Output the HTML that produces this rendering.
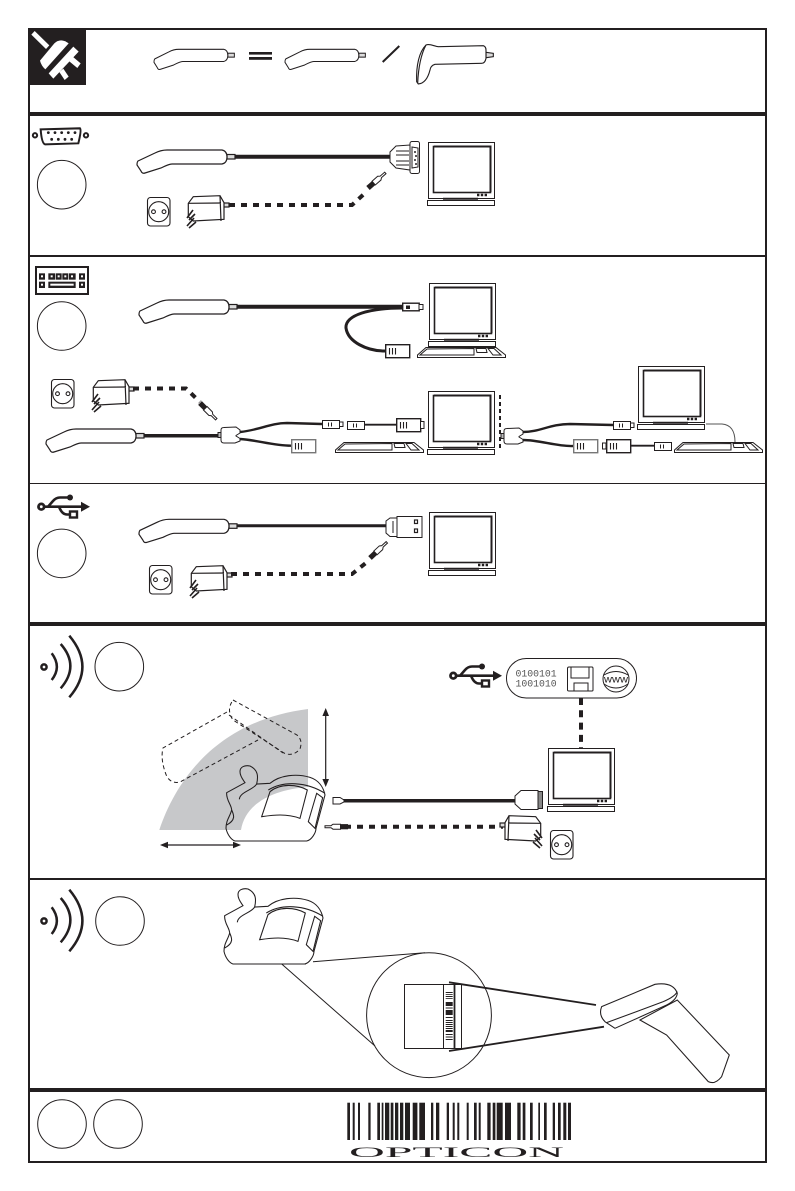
<!DOCTYPE html>
<html><head><meta charset="utf-8"><style>html,body{margin:0;padding:0;background:#fff}svg{display:block}</style></head>
<body>
<svg xmlns="http://www.w3.org/2000/svg" width="795" height="1191" viewBox="0 0 795 1191">
<defs>
<g id="pen" fill="#fff" stroke="#231f20" stroke-width="1.2">
<rect x="90" y="4.5" width="8" height="4.5" fill="#ddd"/>
<path d="M1 11L18 3Q24 0 30 0L85 0Q90 1 90 7Q90 13 85 14L35 14Q32 14 24 18L8 23Q5 24 4 21L0 15Q0 12 1 11Z"/>
</g>
<g id="adapter" fill="#fff" stroke="#231f20" stroke-width="1.2">
<rect x="36" y="8" width="6" height="4" fill="#ddd"/>
<path d="M1.3 8.3L6.3 1.7L33 .7L37 7.7L37 24.3L6.3 26L1.3 21.7Z"/>
<path d="M1.3 8.3L34 8M33 .7L34 26" fill="none"/>
<path d="M0 23L6 15M2 25L8 19M0 31L7 23M2 33L9 27" fill="none" stroke-width="1.6"/>
</g>
<g id="socket" fill="#fff" stroke="#231f20" stroke-width="1.1">
<rect x=".5" y=".5" width="22.5" height="28.5" rx="3"/>
<circle cx="11.7" cy="14.7" r="10"/>
<circle cx="6.5" cy="14.7" r="1.9"/><circle cx="17" cy="14.7" r="1.9"/>
</g>
<g id="monitor" fill="#fff" stroke="#231f20">
<rect x=".5" y=".5" width="66" height="56" stroke-width="1"/>
<rect x="5.5" y="4.5" width="57" height="46" stroke-width="1.6"/>
<path d="M6 4.5H62.5V50" fill="none" stroke-width="2"/>
<path d="M15 56.7H50" stroke-width="2"/>
<rect x="-.5" y="58.5" width="67" height="5" stroke-width="1"/>
<path d="M49 53H60" stroke-width="2.4" stroke-dasharray="2.4 1.4" fill="none"/>
</g>
<g id="kb" fill="#fff" stroke="#231f20" stroke-width="1">
<path d="M.5 10.5L.5 8L9 .5L79 .5L88.5 8L88.5 10.5Z"/>
<path d="M3 8L10 2L57 1.5L57 8ZM59 1.5H69L70 5.5H60ZM71 1.5L77 1.5L84 8L76 8Z"/>
</g>
<g id="usb" fill="none" stroke="#231f20" stroke-width="2.6">
<circle cx="4.3" cy="12.7" r="2.8" stroke-width="2.8"/>
<path d="M7 12.7H46"/>
<path d="M44 7.7L53 12.7L44 17.7Z" fill="#231f20" stroke="none"/>
<path d="M11 12.7L16 7Q19 3.5 23 3.5H32"/>
<circle cx="33" cy="3.5" r="3" fill="#231f20" stroke="none"/>
<path d="M22 12.7Q25 20.5 30 20.5H33"/>
<rect x="33" y="17.5" width="7" height="6" fill="#fff" stroke-width="2.4"/>
</g>
<g id="wireless" fill="none" stroke="#231f20" stroke-width="2.5">
<circle cx="44" cy="667" r="2.6"/>
<path d="M51.7 653.3Q62 667 51.7 680"/>
<path d="M60.7 644Q80 666 60.7 688.3"/>
<path d="M69.3 635.7Q95.5 667 69.3 697.3"/>
</g>
<g id="cradle" fill="none" stroke="#231f20" stroke-width="3.2">
<path d="M165 68L110 98C108 120 125 135 125 150C120 170 108 180 108 205C112 225 125 240 135 243L350 243C365 240 378 218 378 205L405 105C400 80 385 60 360 52C320 40 270 45 240 70L200 72C205 50 205 30 180 18C165 15 150 20 150 35C150 50 160 60 165 68Z"/>
<path d="M200 72C190 90 150 95 148 118M125 150C132 165 138 180 110 195M235 90C280 62 350 65 405 100"/>
<path d="M240 95C270 70 320 72 352 90L330 175C290 160 250 165 215 170Z"/>
<path d="M380 100L398 113L375 205L355 185Z"/>
</g>
<g id="smallc" fill="#fff" stroke="#231f20" stroke-width="1">
<rect x=".5" y=".5" width="17" height="8"/>
<path d="M6.5 2.5V6.5M9.5 2.5V6.5"/>
</g>
<g id="bigc" fill="#fff">
<rect x=".7" y=".7" width="24" height="13" stroke-width="1.4"/>
<path d="M4.5 4V10.5M7.5 4V10.5M10.5 4V10.5" stroke="#231f20" stroke-width="1.1"/>
</g>
<g id="jack">
<rect x="0" y="-2.6" width="7.5" height="5.2" fill="#231f20"/>
<path d="M7.5 -2.5H15L17 -1H23V1H17L15 2.5H7.5Z" fill="#fff" stroke="#231f20" stroke-width="1"/>
</g>
<g id="split" fill="#fff" stroke="#231f20" stroke-width="1">
<rect x="-2" y="5.5" width="3" height="5" fill="#bbb"/>
<path d="M1 3Q1 .5 4 .5L16 0L20 3V6L16 8.5V9L20 11.5V14L15 16H4Q1 16 1 13Z"/>
</g>
</defs>

<rect width="795" height="1191" fill="#fff"/>

<!-- Frame -->
<rect x="29" y="29" width="737" height="1133" fill="none" stroke="#231f20" stroke-width="2"/>
<g fill="#231f20">
<rect x="28" y="112" width="739" height="4"/>
<rect x="28" y="255" width="739" height="2"/>
<rect x="28" y="483" width="739" height="1"/>
<rect x="28" y="622" width="739" height="4"/>
<rect x="28" y="878" width="739" height="2"/>
<rect x="28" y="1088" width="739" height="4"/>
</g>

<!-- Row 1 -->
<rect x="30" y="30" width="56" height="55" fill="#231f20"/>
<g transform="translate(20 20) scale(.3333)" fill="#fff">
<path d="M34 44L44 33L88 76L78 87Z"/>
<path d="M60 122L103 70Q122 52 146 70L76 148Q64 138 60 122Z"/>
<path d="M86 160L160 80L176 95L100 176Z"/>
<path d="M118 156L130 146L146 170L134 180Z"/>
<path d="M148 124L158 110L182 130L172 144Z"/>
</g>
<use href="#pen" transform="translate(154 49.3) scale(.82 .87)"/>
<use href="#pen" transform="translate(285 49.3) scale(.82 .87)"/>
<rect x="249" y="52" width="23" height="2.6" fill="#231f20"/>
<rect x="249" y="57" width="23" height="2.8" fill="#231f20"/>
<path d="M382.7 62L399.3 46" stroke="#231f20" stroke-width="2" fill="none"/>
<g transform="translate(400 35) scale(.3333)" fill="#fff" stroke="#231f20" stroke-width="3.4">
<path d="M258 52L280 55V65L258 68Z" fill="#ddd"/>
<path d="M50 140C48 90 58 50 78 30C90 25 105 35 115 35L250 32Q258 35 258 45L258 70Q255 85 245 85L105 88Q92 92 90 105C85 125 75 145 55 147Z"/>
<path d="M78 30C62 60 55 100 53 145" fill="none"/>
</g>

<!-- Row 2 : serial -->
<g transform="translate(20 20) scale(.3333)" fill="none" stroke="#231f20" stroke-width="6">
<circle cx="45" cy="346" r="6.5"/><circle cx="198" cy="346" r="6.5"/>
<path d="M62 328L180 325Q185 330 175 370L75 373Q65 370 62 328Z"/>
<g fill="#231f20" stroke="none"><circle cx="85" cy="338" r="4.2"/><circle cx="105" cy="338" r="4.2"/><circle cx="125" cy="338" r="4.2"/><circle cx="145" cy="338" r="4.2"/><circle cx="165" cy="338" r="4.2"/><circle cx="95" cy="358" r="4.2"/><circle cx="115" cy="358" r="4.2"/><circle cx="135" cy="358" r="4.2"/><circle cx="155" cy="358" r="4.2"/></g>
</g>
<g fill="#fff" stroke="#231f20" stroke-width="1">
<circle cx="61.7" cy="184.7" r="24.3"/>
<circle cx="61.7" cy="326" r="24.3"/>
<circle cx="61.7" cy="553.4" r="24.3"/>
<circle cx="119.3" cy="666.7" r="24.3"/>
<circle cx="120" cy="921" r="24.3"/>
<circle cx="62" cy="1124" r="24.3"/>
<circle cx="118" cy="1124" r="24.3"/>
</g>
<path d="M232 156.7H391" stroke="#231f20" stroke-width="4"/>
<use href="#pen" transform="translate(137 150)"/>
<g fill="#fff" stroke="#231f20" stroke-width="1">
<path d="M390 152L396 146L410 145V170L396 168L390 162Z"/>
<path d="M396 151H409M396 155H409M396 161H409M396 165H409" fill="none"/>
<rect x="410" y="141.5" width="9.5" height="32" rx="2"/>
<path d="M412 147L418 148L418 167L412 168Z" fill="none"/>
<path d="M415 151V153M416 155V157M415 159V161M416 163V165" stroke-width="1.5"/>
</g>
<use href="#monitor" transform="translate(428 142)"/>
<use href="#socket" transform="translate(147 197)"/>
<use href="#adapter" transform="translate(187 195)"/>
<path d="M229 205H352L364 194" fill="none" stroke="#231f20" stroke-width="4" stroke-dasharray="6 6"/>
<use href="#jack" transform="translate(368 188) rotate(-41)"/>

<!-- Row 3 : keyboard wedge -->
<g transform="translate(20 260) scale(.3333)">
<rect x="48" y="21" width="156" height="81" fill="#fff" stroke="#231f20" stroke-width="6"/>
<g fill="#231f20">
<rect x="57" y="40" width="18" height="19"/><rect x="85" y="40" width="20" height="19"/><rect x="107" y="40" width="18" height="19"/><rect x="127" y="40" width="18" height="19"/><rect x="147" y="40" width="20" height="19"/><rect x="177" y="40" width="18" height="19"/>
<rect x="57" y="65" width="18" height="19"/><rect x="85" y="65" width="82" height="19"/><rect x="177" y="65" width="18" height="19"/>
</g>
<g fill="#fff"><rect x="63" y="46" width="6" height="6"/><rect x="92" y="46" width="6" height="6"/><rect x="113" y="46" width="6" height="6"/><rect x="133" y="46" width="6" height="6"/><rect x="153" y="46" width="6" height="6"/><rect x="183" y="46" width="6" height="6"/><rect x="63" y="71" width="6" height="6"/><rect x="91" y="71" width="70" height="6"/><rect x="183" y="71" width="6" height="6"/></g>
</g>
<path d="M232 306.7H403" stroke="#231f20" stroke-width="4"/>
<use href="#pen" transform="translate(139 300)"/>
<path d="M402 308C370 308 345 315 346 328C348 342 367 351 385 351" fill="none" stroke="#231f20" stroke-width="3"/>
<rect x="402.7" y="303.2" width="16.5" height="7.6" fill="#fff" stroke="#231f20" stroke-width="1.4"/>
<rect x="406" y="305.5" width="4" height="3.5" fill="#231f20"/>
<rect x="419" y="304.5" width="4" height="5" fill="#fff" stroke="#231f20" stroke-width="1"/>
<use href="#bigc" stroke="#231f20" transform="translate(385 344)"/>
<use href="#monitor" transform="translate(429 283)"/>
<use href="#kb" transform="translate(417 347)"/>

<use href="#socket" transform="translate(51 379)"/>
<use href="#adapter" transform="translate(92 379)"/>
<path d="M133 388.5H186L200 402" fill="none" stroke="#231f20" stroke-width="4" stroke-dasharray="6 6"/>
<use href="#jack" transform="translate(200 403) rotate(45)"/>
<path d="M140 435.7H220" stroke="#231f20" stroke-width="3.5"/>
<use href="#pen" transform="translate(46 429)"/>
<path d="M240 432C260 430 270 423 287 423L322 424" fill="none" stroke="#231f20" stroke-width="2.4"/>
<path d="M240 439C257 440 273 445.7 291 445.7" fill="none" stroke="#231f20" stroke-width="2.4"/>
<use href="#split" transform="translate(220 427)"/>
<use href="#smallc" transform="translate(322 420)"/>
<rect x="339.5" y="422" width="3.5" height="4.5" fill="#fff" stroke="#231f20" stroke-width="1"/>
<use href="#smallc" transform="translate(347 421)"/>
<path d="M364 424.7H396" stroke="#231f20" stroke-width="1.8"/>
<use href="#bigc" stroke="#231f20" transform="translate(396 418)"/>
<rect x="420.5" y="421.5" width="3.5" height="7" fill="#fff" stroke="#231f20" stroke-width="1"/>
<use href="#bigc" stroke="#777" transform="translate(291 439)"/>
<use href="#kb" transform="translate(335 442)"/>
<use href="#monitor" transform="translate(428 391)"/>
<path d="M500 395V448" stroke="#231f20" stroke-width="2" stroke-dasharray="4 3" fill="none"/>
<path d="M523 432C540 432 550 424 570 424L613 425" fill="none" stroke="#231f20" stroke-width="2.4"/>
<path d="M523 440C540 440 557 446.7 573 446" fill="none" stroke="#231f20" stroke-width="2.4"/>
<use href="#split" transform="translate(503 428)"/>
<use href="#smallc" transform="translate(613 421)"/>
<rect x="630.5" y="423" width="3.5" height="4.5" fill="#fff" stroke="#231f20" stroke-width="1"/>
<use href="#bigc" stroke="#777" transform="translate(573 439)"/>
<use href="#bigc" stroke="#231f20" transform="translate(606 439)"/>
<rect x="602.5" y="443" width="3.5" height="6" fill="#fff" stroke="#231f20" stroke-width="1"/>
<path d="M630 445.7H654" stroke="#231f20" stroke-width="1.8"/>
<use href="#smallc" transform="translate(654 442)"/>
<use href="#monitor" transform="translate(638 366)"/>
<path d="M706 424H722Q735 425 735 442" fill="none" stroke="#555" stroke-width="1"/>
<use href="#kb" transform="translate(674 442)"/>

<!-- Row 4 : USB -->
<use href="#usb" transform="translate(37 494)"/>
<path d="M235 525.7H388" stroke="#231f20" stroke-width="3"/>
<use href="#pen" transform="translate(139 519.3)"/>
<g fill="#fff" stroke="#231f20" stroke-width="1">
<path d="M386 521L390 518H397V536.5H390L386 533Z"/>
<rect x="397" y="516.5" width="25" height="21"/>
<path d="M393 521V533" fill="none"/>
<rect x="414.5" y="520" width="3" height="3.5" stroke-width="1.2"/>
<rect x="414.5" y="529" width="3" height="3.5" stroke-width="1.2"/>
</g>
<use href="#monitor" transform="translate(429 512)"/>
<use href="#socket" transform="translate(149 565)"/>
<use href="#adapter" transform="translate(190 565)"/>
<path d="M231 574H352L367 562" fill="none" stroke="#231f20" stroke-width="4" stroke-dasharray="6 6"/>
<use href="#jack" transform="translate(370 558) rotate(-43)"/>

<!-- Row 5 : wireless -->
<use href="#wireless"/>
<path d="M159.3 830C177 777 220 720 308 709L308 787C270 790 245 805 241 830Z" fill="#c7c8ca"/>
<g fill="none" stroke="#231f20" stroke-width="1" stroke-dasharray="4 3">
<path d="M233 700L297 735Q303 740 300 749Q293 757 284 753L233 720Q226 710 233 700Z"/>
<path d="M227 712L163 748Q160 760 167 777Q172 784 180 782L258 740"/>
<path d="M229 715L283 753"/>
</g>
<use href="#cradle" transform="translate(190 760) scale(.3333)"/>
<g fill="#231f20">
<path d="M325.7 714V781" stroke="#231f20" stroke-width="1.2"/>
<path d="M325.7 708L329 716H322.4ZM325.7 787L329 779H322.4Z"/>
<path d="M166 845H235" stroke="#231f20" stroke-width="1.2"/>
<path d="M160 845L168 841.7V848.3ZM241 845L233 841.7V848.3Z"/>
</g>
<path d="M343 800.7H516" stroke="#231f20" stroke-width="3.5"/>
<path d="M333 797.5H340L344 800V802L340 804H333Z" fill="#fff" stroke="#231f20" stroke-width="1"/>
<g fill="#fff" stroke="#231f20" stroke-width="1">
<path d="M515 796L521 790.5H538L538 809.5H521L515 804Z"/>
<rect x="538" y="791.5" width="4.5" height="17" fill="#888"/>
</g>
<use href="#monitor" transform="translate(548 748)"/>
<path d="M581 698V748" stroke="#231f20" stroke-width="4" stroke-dasharray="7 5.3" fill="none"/>
<path d="M345 826.7H503" fill="none" stroke="#231f20" stroke-width="4" stroke-dasharray="6 6"/>
<use href="#jack" transform="translate(348 826.7) rotate(180)"/>
<use href="#adapter" transform="translate(542 815) scale(-1 1)"/>
<use href="#socket" transform="translate(550 830)"/>

<use href="#usb" transform="translate(449 663)"/>
<rect x="506.5" y="658.5" width="130" height="39.5" rx="19.7" fill="#fff" stroke="#231f20" stroke-width="1"/>
<text x="515.5" y="676.5" font-family="Liberation Mono, monospace" font-size="9.8" fill="#555">0100101</text>
<text x="515.5" y="686.5" font-family="Liberation Mono, monospace" font-size="9.8" fill="#555">1001010</text>
<g fill="#fff" stroke="#231f20" stroke-width="1">
<path d="M567.5 668.5Q567.5 667 569 667H592Q593 667 593 668.5V690Q593 691 592 691H569Q567.5 691 567.5 690Z"/>
<path d="M571 667V678H589V667M574 691V683H588V691" fill="none"/>
<circle cx="616" cy="679" r="13"/>
<path d="M604 675Q616 668 628 675M604 684Q616 692 628 684" fill="none"/>
</g>
<text x="616" y="682.5" text-anchor="middle" font-family="Liberation Sans, sans-serif" font-size="10" fill="#231f20" textLength="24" lengthAdjust="spacingAndGlyphs">www</text>

<!-- Row 6 -->
<use href="#wireless" transform="translate(0 254)"/>
<use href="#cradle" transform="translate(188 883) scale(.3333)"/>
<path d="M281.7 964H306M313 961.7L425 952.7M281.7 964L375 1046" fill="none" stroke="#231f20" stroke-width="1"/>
<circle cx="429" cy="1015.2" r="62.4" fill="none" stroke="#231f20" stroke-width="1"/>
<g fill="#fff" stroke="#231f20" stroke-width="1">
<rect x="404.5" y="984.5" width="57" height="64"/>
<path d="M443.5 984.5V1048.5M461.5 984.5V1048.5" fill="none"/>
<path d="M454.5 984.5V1048.5" fill="none" stroke-width="1.8"/>
</g>
<g fill="#231f20">
<rect x="445.7" y="992" width="7" height="1"/><rect x="445.7" y="994" width="7" height=".8"/><rect x="445.7" y="996" width="7" height="1"/><rect x="445.7" y="998" width="7" height=".8"/>
<rect x="445.7" y="1002" width="7" height="4"/><rect x="445.7" y="1007.5" width="7" height="1"/>
<rect x="445.7" y="1010" width="7" height="5"/>
<rect x="445.7" y="1017" width="7" height="1"/><rect x="445.7" y="1020" width="7" height="1"/><rect x="445.7" y="1022" width="7" height="1"/><rect x="445.7" y="1024" width="7" height="1"/><rect x="445.7" y="1026" width="7" height="1"/><rect x="445.7" y="1028" width="7" height="1"/><rect x="445.7" y="1030" width="7" height="2"/><rect x="445.7" y="1034" width="7" height="1"/><rect x="445.7" y="1036.5" width="7" height="1"/><rect x="445.7" y="1039" width="7" height="1"/>
</g>
<path d="M449 982.3L596 1005M449 1051L604 1026.7" fill="none" stroke="#231f20" stroke-width="1.8"/>
<g transform="translate(280 940) scale(.3333)" fill="#fff" stroke="#231f20" stroke-width="3.2">
<path d="M1080 240L1160 285L1285 425Q1305 435 1325 410L1348 345L1192 180Z"/>
<path d="M965 200L1125 133Q1180 125 1192 160Q1190 180 1160 195L1005 265L975 245Q955 225 965 200Z"/>
<path d="M980 248L1150 185Q1185 170 1192 155" fill="none"/>
</g>

<!-- Row 7 : barcode -->
<g fill="#231f20">
<rect x="347.3" y="1102.7" width="2.7" height="37.3"/><rect x="352.7" y="1102.7" width="2" height="37.3"/><rect x="358" y="1102.7" width="2" height="37.3"/><rect x="368.3" y="1102.7" width="2.3" height="37.3"/><rect x="377.3" y="1102.7" width="2.7" height="37.3"/><rect x="381.7" y="1102.7" width="1.7" height="37.3"/><rect x="385" y="1102.7" width="4.3" height="37.3"/><rect x="390.7" y="1102.7" width="2.7" height="37.3"/><rect x="395" y="1102.7" width="3.3" height="37.3"/><rect x="400" y="1102.7" width="3.3" height="37.3"/><rect x="405" y="1102.7" width="5" height="37.3"/><rect x="412.7" y="1102.7" width="4.7" height="37.3"/><rect x="419.3" y="1102.7" width="5.7" height="37.3"/><rect x="431" y="1102.7" width="2.3" height="37.3"/><rect x="436" y="1102.7" width="3.3" height="37.3"/><rect x="446.7" y="1102.7" width="2.3" height="37.3"/><rect x="452.7" y="1102.7" width="2" height="37.3"/><rect x="457.3" y="1102.7" width="2" height="37.3"/><rect x="466.7" y="1102.7" width="2" height="37.3"/><rect x="474" y="1102.7" width="2.7" height="37.3"/><rect x="478.7" y="1102.7" width="2" height="37.3"/><rect x="487.3" y="1102.7" width="3.3" height="37.3"/><rect x="492.7" y="1102.7" width="2.7" height="37.3"/><rect x="496.7" y="1102.7" width="6" height="37.3"/><rect x="505" y="1102.7" width="6" height="37.3"/><rect x="517.3" y="1102.7" width="3.3" height="37.3"/><rect x="522.7" y="1102.7" width="2.7" height="37.3"/><rect x="530" y="1102.7" width="2.7" height="37.3"/><rect x="538.3" y="1102.7" width="1.7" height="37.3"/><rect x="544" y="1102.7" width="2.7" height="37.3"/><rect x="552.7" y="1102.7" width="2.3" height="37.3"/><rect x="558" y="1102.7" width="2.7" height="37.3"/><rect x="563.3" y="1102.7" width="3" height="37.3"/><rect x="568" y="1102.7" width="3" height="37.3"/>
</g>
<text x="349" y="1157" font-family="Liberation Serif, serif" font-size="14.5" fill="#231f20" textLength="215" lengthAdjust="spacingAndGlyphs">OPTICON</text>
</svg>
</body></html>
